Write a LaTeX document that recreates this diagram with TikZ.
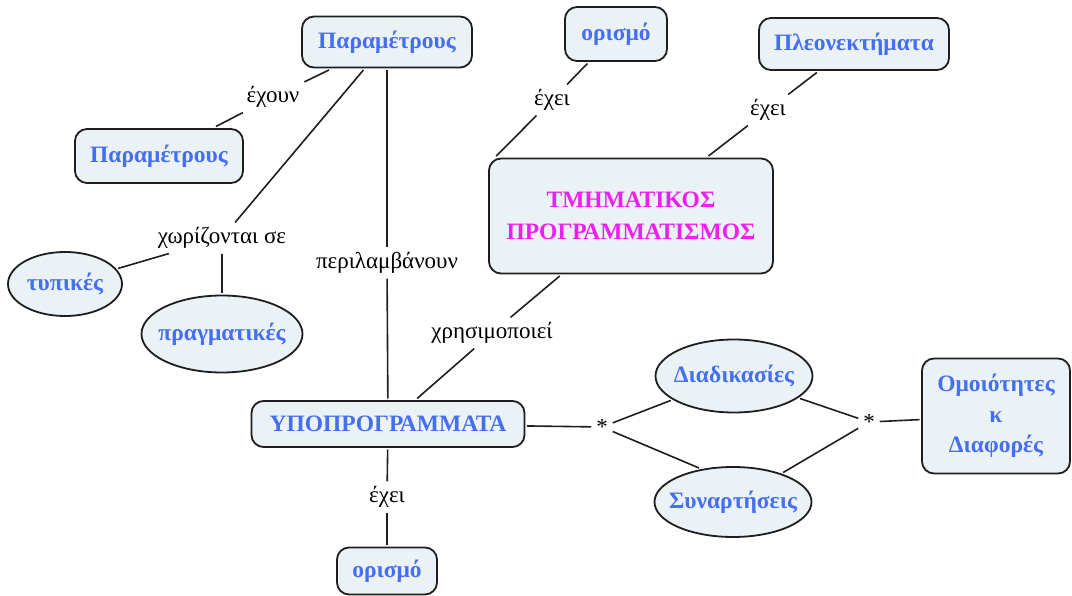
\documentclass[tikz,border=0pt]{standalone}
\usepackage{fontspec}
\setmainfont{Liberation Serif}
\usetikzlibrary{shapes.geometric}
\definecolor{nodeblue}{RGB}{70,110,240}
\definecolor{nodefill}{RGB}{234,242,245}
\definecolor{titlemag}{RGB}{240,30,240}
\definecolor{linedark}{RGB}{30,30,30}

\begin{document}
\begin{tikzpicture}[x=1pt,y=-1pt,
  concept/.style={draw=linedark, line width=1.8pt, fill=nodefill, rounded corners=12pt,
    font=\fontsize{23.5}{30}\selectfont\bfseries, text=nodeblue, align=center,
    inner sep=0pt, outer sep=2.5pt},
  oval/.style={ellipse, draw=linedark, line width=1.8pt, fill=nodefill,
    font=\fontsize{23.5}{28}\selectfont\bfseries, text=nodeblue,
    inner xsep=-25pt, inner ysep=-12pt, outer sep=2.5pt},
  link/.style={font=\fontsize{23}{27}\selectfont, text=black, inner sep=2pt, outer sep=3pt},
  conn/.style={draw=linedark, line width=1.6pt}
]
\useasboundingbox (0,0) rectangle (1072,596);

% concepts
\node[concept, minimum width=170pt, minimum height=51pt] (ptop) at (387,42) {Παραμέτρους};
\node[concept, minimum width=168pt, minimum height=54pt] (pleft) at (159,156) {Παραμέτρους};
\node[concept, minimum width=102pt, minimum height=54pt] (odef) at (616,34) {ορισμό};
\node[concept, minimum width=190pt, minimum height=52pt] (adv) at (854,44) {Πλεονεκτήματα};
\node[concept, minimum width=284pt, minimum height=115pt, text=titlemag,
      font=\fontsize{23.5}{32}\selectfont\bfseries] (tp) at (631,216) {ΤΜΗΜΑΤΙΚΟΣ\\ΠΡΟΓΡΑΜΜΑΤΙΣΜΟΣ};
\node[oval, minimum width=114pt, minimum height=64pt] (typ) at (65,284) {τυπικές};
\node[oval, minimum width=161pt, minimum height=77pt] (real) at (222,334) {πραγματικές};
\node[concept, minimum width=273pt, minimum height=46pt] (sub) at (388,424) {ΥΠΟΠΡΟΓΡΑΜΜΑΤΑ};
\node[concept, minimum width=100pt, minimum height=47pt] (odef2) at (387,571) {ορισμό};
\node[oval, minimum width=157pt, minimum height=73pt] (proc) at (734,376) {Διαδικασίες};
\node[oval, minimum width=157pt, minimum height=70pt] (func) at (733,502) {Συναρτήσεις};
\node[concept, minimum width=148pt, minimum height=115pt,
      font=\fontsize{23.5}{30.5}\selectfont\bfseries] (diff) at (996,416) {Ομοιότητες\\κ\\Διαφορές};

% linking phrases
\node[link] (lhave) at (273,97) {έχουν};
\node[link] (lsplit) at (222,238) {χωρίζονται σε};
\node[link] (linc) at (387,263) {περιλαμβάνουν};
\node[link] (luse) at (492,333) {χρησιμοποιεί};
\node[link] (lhas1) at (387,497) {έχει};
\node[link] (lhas2) at (552,100) {έχει};
\node[link] (lhas3) at (768,110) {έχει};
\node[link] (sA) at (602,427) {*};
\node[link] (sB) at (869,422) {*};

% connectors
\draw[conn] (ptop) -- (lhave);
\draw[conn] (lhave) -- (pleft);
\draw[conn] (ptop) -- (lsplit);
\draw[conn] (lsplit) -- (typ);
\draw[conn] (lsplit) -- (real);
\draw[conn] (ptop) -- (linc);
\draw[conn] (linc) -- (sub);
\draw[conn] (tp) -- (luse);
\draw[conn] (luse) -- (sub);
\draw[conn] (sub) -- (lhas1);
\draw[conn] (lhas1) -- (odef2);
\draw[conn] (odef) -- (lhas2);
\draw[conn] (lhas2) -- (tp.156);
\draw[conn] (adv) -- (lhas3);
\draw[conn] (lhas3) -- (tp);
\draw[conn] (sub) -- (sA);
\draw[conn] (sA) -- (proc);
\draw[conn] (sA) -- (func.135);
\draw[conn] (proc) -- (sB);
\draw[conn] (func) -- (sB);
\draw[conn] (sB) -- (diff);
\end{tikzpicture}
\end{document}
